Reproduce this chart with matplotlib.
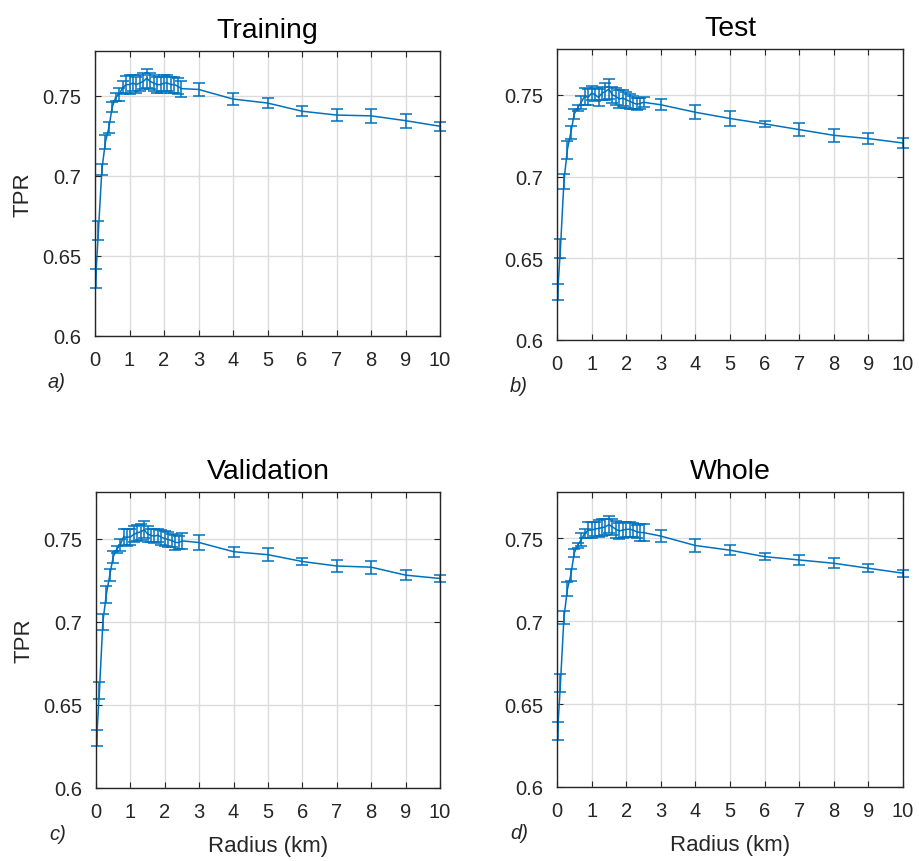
# import numpy and matplotlib
import numpy as np
import matplotlib.pyplot as plt

plt.rcParams['font.family'] = ['Liberation Sans', 'DejaVu Sans']

# radius values (km)
radius = [0.02, 0.1, 0.2, 0.3, 0.4, 0.5, 0.6, 0.7, 0.8, 0.9, 1.0,
          1.1, 1.2, 1.3, 1.4, 1.5, 1.6, 1.7, 1.8, 1.9, 2.0,
          2.1, 2.2, 2.3, 2.4, 2.5, 3, 4, 5, 6, 7, 8, 9, 10]

# mean TPR and error for each set
tpr_train = [0.636, 0.666, 0.704, 0.721, 0.730, 0.743, 0.749, 0.751, 0.755, 0.757, 0.757,
             0.758, 0.757, 0.758, 0.759, 0.761, 0.759, 0.758, 0.757, 0.757, 0.758,
             0.758, 0.757, 0.757, 0.756, 0.7545, 0.754, 0.748, 0.7455, 0.7404, 0.738, 0.7375, 0.7345, 0.731]
err_train = [0.006, 0.006, 0.0035, 0.0045, 0.0035, 0.003, 0.0025, 0.004, 0.004, 0.0055, 0.006,
             0.005, 0.005, 0.005, 0.005, 0.006, 0.005, 0.005, 0.005, 0.005, 0.005,
             0.005, 0.005, 0.005, 0.005, 0.005, 0.004, 0.004, 0.0033, 0.0033, 0.004, 0.0045, 0.0044, 0.0027]

tpr_test = [0.6295, 0.656, 0.697, 0.7165, 0.727, 0.7383, 0.742, 0.7455, 0.749, 0.7485, 0.751,
            0.750, 0.7484, 0.751, 0.752, 0.7535, 0.750, 0.749, 0.7474, 0.748, 0.747,
            0.746, 0.745, 0.7443, 0.7446, 0.7454, 0.7439, 0.7393, 0.7355, 0.7322, 0.7287, 0.7252, 0.7232, 0.7205]
err_test = [0.005, 0.0056, 0.0047, 0.0055, 0.004, 0.003, 0.002, 0.004, 0.005, 0.005, 0.0043,
            0.004, 0.005, 0.004, 0.005, 0.006, 0.005, 0.005, 0.0056, 0.005, 0.005,
            0.0045, 0.004, 0.0036, 0.0036, 0.003, 0.0034, 0.0042, 0.0044, 0.002, 0.004, 0.004, 0.0035, 0.0033]

tpr_val = [0.630, 0.6585, 0.700, 0.7164, 0.728, 0.739, 0.7435, 0.746, 0.751, 0.7508, 0.751,
           0.7525, 0.7535, 0.754, 0.7553, 0.7528, 0.7518, 0.7515, 0.752, 0.7508, 0.750,
           0.7494, 0.7488, 0.7478, 0.7475, 0.7486, 0.7476, 0.7421, 0.7403, 0.7362, 0.7335, 0.7328, 0.728, 0.726]
err_val = [0.005, 0.005, 0.0047, 0.005, 0.0035, 0.0035, 0.002, 0.0035, 0.005, 0.005, 0.005,
           0.0048, 0.0048, 0.0048, 0.005, 0.0048, 0.004, 0.004, 0.004, 0.0046, 0.0044,
           0.0044, 0.0038, 0.0045, 0.004, 0.005, 0.0045, 0.003, 0.004, 0.002, 0.0035, 0.004, 0.003, 0.002]

tpr_whole = [0.634, 0.6626, 0.7022, 0.7193, 0.728, 0.7413, 0.746, 0.7492, 0.753, 0.755, 0.755,
             0.7557, 0.756, 0.7565, 0.757, 0.7583, 0.757, 0.7555, 0.7545, 0.755, 0.7555,
             0.7555, 0.755, 0.754, 0.7536, 0.7535, 0.7514, 0.7457, 0.7429, 0.739, 0.737, 0.735, 0.732, 0.729]
err_whole = [0.0054, 0.0055, 0.0037, 0.0043, 0.0035, 0.0025, 0.0015, 0.004, 0.0025, 0.005, 0.005,
             0.0044, 0.005, 0.005, 0.005, 0.0053, 0.005, 0.005, 0.005, 0.005, 0.0045,
             0.0045, 0.004, 0.004, 0.005, 0.005, 0.0034, 0.0039, 0.003, 0.002, 0.003, 0.003, 0.0025, 0.002]

titles = ["Training", "Test", "Validation", "Whole"]
letters = ["a)", "b)", "c)", "d)"]
ytick_vals = [0.6, 0.65, 0.7, 0.75]
ytick_labels = ["0.6", "0.65", "0.7", "0.75"]
xtick_vals = [0, 1, 2, 3, 4, 5, 6, 7, 8, 9, 10]

series = [(tpr_train, err_train), (tpr_test, err_test),
          (tpr_val, err_val), (tpr_whole, err_whole)]

W, H = 919, 862
fig = plt.figure(figsize=(W / 100, H / 100), dpi=100)

# axes boxes in pixels: left, top, right, bottom
boxes = [(95, 52, 440, 337), (557, 50, 903, 341),
         (96, 493, 440, 789), (557, 493, 903, 788)]

grey = '#262626'
blue = '#0072BD'

for i in range(4):
    l, t, r, b = boxes[i]
    ax = fig.add_axes([l / W, 1 - b / H, (r - l) / W, (b - t) / H])
    y, e = series[i]
    lines = ax.errorbar(radius, y, yerr=e, color=blue, lw=1.1, elinewidth=1.1,
                        capsize=4.5, capthick=1.1)
    # let the first bar sit on the y axis like the original
    for art in lines.get_children():
        art.set_clip_on(False)
    ax.set_xlim(0, 10)
    ax.set_ylim(0.6, 0.778)
    ax.set_xticks(xtick_vals)
    ax.set_yticks(ytick_vals)
    ax.set_yticklabels(ytick_labels)
    ax.grid(True, color='#dcdcdc', lw=1.0)
    ax.set_axisbelow(True)
    ax.tick_params(direction='in', length=4, width=0.8, colors=grey,
                   labelsize=14.5, top=True, right=True)
    ax.tick_params(axis='x', pad=10)
    ax.tick_params(axis='y', pad=10)
    for s in ax.spines.values():
        s.set_color(grey)
        s.set_linewidth(1.0)
        s.set_zorder(3)
    ax.set_title(titles[i], fontsize=20.5, color='black', pad=10)
    if i % 2 == 0:
        ax.set_ylabel("TPR", fontsize=16, color=grey, labelpad=6)
    if i >= 2:
        ax.set_xlabel("Radius (km)", fontsize=16, color=grey, labelpad=10)
    fig.text((l - 47) / W, 1 - (b + 46) / H, letters[i], fontsize=14.5,
             style='italic', color=grey, va='center')

plt.savefig('out.png', dpi=100)
